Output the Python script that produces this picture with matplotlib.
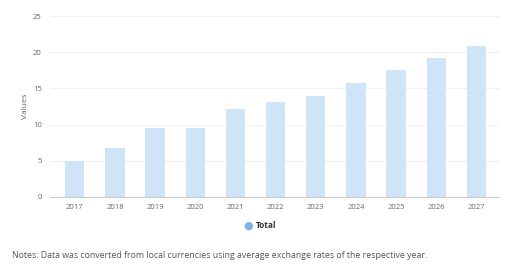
import matplotlib.pyplot as plt

years = ["2017", "2018", "2019", "2020", "2021", "2022", "2023", "2024", "2025", "2026", "2027"]
values = [5.0, 6.7, 9.6, 9.6, 12.2, 13.1, 14.0, 15.8, 17.5, 19.2, 20.8]
yticks = [0, 5, 10, 15, 20, 25]

plt.rcParams["font.family"] = ["Open Sans", "DejaVu Sans"]

fig = plt.figure(figsize=(5.12, 2.68), dpi=100)
ax = fig.add_axes([0.0977, 0.265, 0.877, 0.675])

x = range(len(years))
ax.bar(x, values, width=0.48, color="#cfe4f6", zorder=2)

ax.set_xlim(-0.615, len(years) - 1 + 0.565)
ax.set_ylim(0, 25)
ax.set_yticks(yticks)
ax.set_xticks(list(x))
ax.set_xticklabels(years)
ax.tick_params(axis="both", length=0, labelsize=5.5, labelcolor="#666666")
ax.tick_params(axis="x", pad=5)
ax.tick_params(axis="y", pad=6)
ax.grid(axis="y", color="#eeeeee", linewidth=0.7, zorder=0)
for side in ["top", "right", "left"]:
    ax.spines[side].set_visible(False)
ax.spines["bottom"].set_color("#cccccc")
ax.spines["bottom"].set_linewidth(0.8)
ax.set_ylabel("Values", fontsize=6, color="#666666", labelpad=3)

# legend
fig.text(0.484, 0.157, "\u25CF", color="#7db5e8", fontsize=8, ha="center", va="center")
fig.text(0.5, 0.157, "Total", color="#333333", fontsize=6, fontweight="bold", ha="left", va="center")

fig.text(0.023, 0.045, "Notes: Data was converted from local currencies using average exchange rates of the respective year.",
         fontsize=6.35, color="#555555", ha="left", va="center")

fig.savefig("out.png", dpi=100)
